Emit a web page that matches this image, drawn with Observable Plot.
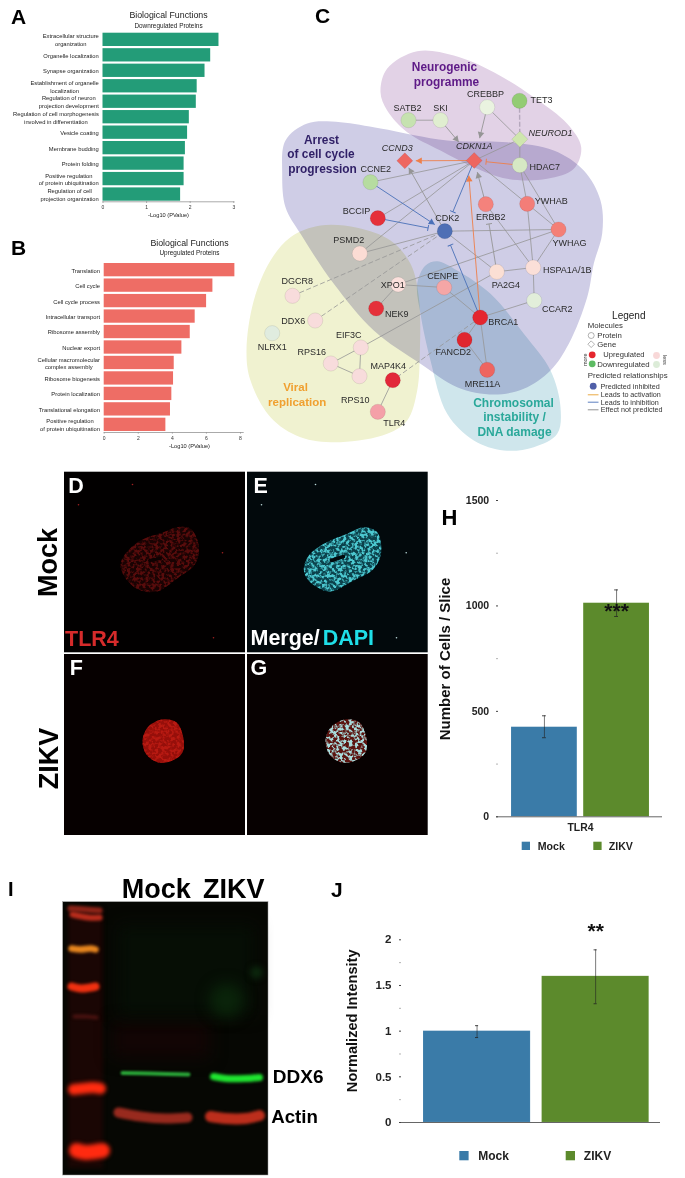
<!DOCTYPE html>
<html><head><meta charset="utf-8">
<script src="https://cdn.jsdelivr.net/npm/d3@7"></script>
<script src="https://cdn.jsdelivr.net/npm/@observablehq/plot@0.6"></script>
<style>
html,body{margin:0;padding:0;background:#fff}
#page{position:relative;width:685px;height:1178px;overflow:hidden;background:#fff}
#page>svg{position:absolute}
</style></head><body>
<svg width="0" height="0" style="position:absolute;left:0;top:0"><defs>
<filter id="speck" x="-5%" y="-5%" width="110%" height="110%" color-interpolation-filters="sRGB">
<feTurbulence type="fractalNoise" baseFrequency="0.32" numOctaves="2" seed="7" result="n"/>
<feColorMatrix in="n" type="matrix" values="0 0 0 0 0  0 0 0 0 0  0 0 0 0 0  5 0 0 0 -2.1" result="a"/>
<feComposite in="SourceGraphic" in2="a" operator="in"/>
<feGaussianBlur stdDeviation="0.35"/>
</filter>
</defs></svg>
<div id="page"></div>
<script>
const font = "'Liberation Sans', Helvetica, Arial, sans-serif";

// ---------- Panel A / B ----------
const downLabels = ["Extracellular structure\norganization","Organelle localization","Synapse organization","Establishment of organelle\nlocalization","Regulation of neuron\nprojection development","Regulation of cell morphogenesis\ninvolved in differentiation","Vesicle coating","Membrane budding","Protein folding","Positive regulation\nof protein ubiquitination","Regulation of cell\nprojection organization"];
const downValues = [2.66,2.47,2.34,2.16,2.14,1.98,1.94,1.89,1.86,1.86,1.78];
const upLabels = ["Translation","Cell cycle","Cell cycle process","Intracellular transport","Ribosome assembly","Nuclear export","Cellular macromolecular\ncomplex assembly","Ribosome biogenesis","Protein localization","Translational elongation","Positive regulation\nof protein ubiquitination"];
const upValues = [7.67,6.38,6.01,5.34,5.05,4.56,4.11,4.07,3.97,3.89,3.62];

// ---------- Panel C ----------
const nodeNames = ["SATB2","SKI","CREBBP","TET3","HDAC7","CCNE2","YWHAB","ERBB2","BCCIP","CDK2","YWHAG","PSMD2","PA2G4","HSPA1A/1B","DGCR8","XPO1","CENPE","CCAR2","NEK9","DDX6","BRCA1","NLRX1","FANCD2","EIF3C","RPS16","RPS10","MAP4K4","MRE11A","TLR4"];
const nodeX = [408,440,486.7,519,519.3,370,526.7,485.3,377.3,444.3,558,359.3,496.3,532.7,292,397.7,443.7,533.7,375.7,314.7,479.7,271.7,464,360.3,330.3,359,392.3,486.7,377.3];
const nodeY = [119.7,119.7,106.7,100.3,164.7,181.7,203.3,203.7,217.7,230.7,229,253,271.3,267,295.3,284,287,300,308,320,317,332.7,339.3,347,363,375.7,379.7,369.3,411.3];
const nodeFill = ["#c6e2b0","#e0eed0","#eaf3e0","#93cc74","#d6e8c4","#b6dca0","#f37d78","#f4827c","#e5303a","#4f6fb5","#f47f76","#fbdcd4","#fbdfd4","#fbdfd8","#f8dcdc","#fbe0dc","#f5a6a6","#e2eeda","#e5303a","#f8dcdc","#e4262f","#e0ecdf","#e0262e","#f8dcdc","#f8dcdc","#f8dcdc","#e2283a","#ee6560","#f4a0a8"];
const nodeLabelX = [407,440,485,541,544.3,375.3,550.7,490.3,356,446.7,569,348.3,505.3,566.7,296.7,392.3,442.3,556.7,396.3,292.7,502.7,271.7,452.7,348.3,311.3,354.7,387.7,482,393.7];
const nodeLabelY = [107.3,107.3,94,99.3,166.7,168.3,200.7,216.7,210.3,218,243,240,284.7,269.7,280.3,285,276,308.3,313.7,320.3,321.7,346.7,351.3,335,351.7,399.3,365.3,383.3,422.7];
const geneNames = ["NEUROD1","CDKN1A","CCND3"];
const geneX = [519.3,473.7,404.3];
const geneY = [138.7,160,160.3];
const geneFill = ["#cfe6ae","#ee6660","#ee6660"];
const geneLabelX = [550,473.7,396.7];
const geneLabelY = [132.7,146,147.7];

const solidEdges = [["SATB2","SKI"],["CREBBP","NEUROD1"],["NEUROD1","HDAC7"],["NEUROD1","CDKN1A"],["CCNE2","CDKN1A"],["BCCIP","CDKN1A"],["PSMD2","CDKN1A"],["CDKN1A","YWHAB"],["HDAC7","YWHAB"],["HDAC7","YWHAG"],["YWHAB","HSPA1A/1B"],["YWHAB","YWHAG"],["ERBB2","HSPA1A/1B"],["YWHAG","HSPA1A/1B"],["CDK2","PA2G4"],["PA2G4","HSPA1A/1B"],["HSPA1A/1B","CCAR2"],["PA2G4","EIF3C"],["YWHAG","XPO1"],["XPO1","CENPE"],["XPO1","NEK9"],["CENPE","BRCA1"],["BRCA1","CCAR2"],["BRCA1","FANCD2"],["BRCA1","MRE11A"],["FANCD2","MRE11A"],["MAP4K4","TLR4"],["EIF3C","RPS16"],["EIF3C","RPS10"],["RPS16","RPS10"],["CDK2","YWHAG"],["CDK2","PSMD2"]];
const dashedEdges = [["DGCR8","CDK2"],["DDX6","CDK2"],["BRCA1","MAP4K4"]];
const lightDashedEdges = [["TET3","NEUROD1"]];
const grayArrows = [["SKI","CDKN1A"],["CREBBP","CDKN1A"],["ERBB2","CDKN1A"],["CDK2","CCND3"]];
const orangeArrows = [["CDKN1A","CCND3"],["BRCA1","CDKN1A"]];
const blueArrows = [["CCNE2","CDK2"]];
const blueBars = [["BCCIP","CDK2"],["BRCA1","CDK2"],["CDKN1A","CDK2"]];
const orangeBars = [["HDAC7","CDKN1A"]];
const grayBars = [["PA2G4","ERBB2"]];
const edgeGap = {"SKI>CDKN1A":24,"CREBBP>CDKN1A":23,"ERBB2>CDKN1A":12,"CDK2>CCND3":8,"CDKN1A>CCND3":11,"BRCA1>CDKN1A":0,"CCNE2>CDK2":12,"BCCIP>CDK2":17,"BRCA1>CDK2":15,"CDKN1A>CDK2":21,"HDAC7>CDKN1A":12,"PA2G4>ERBB2":20};
const edgeTarget = {"BRCA1>CDKN1A":[468.3,175]};

const neuroBlob = [[386.7,68],[416.7,50.7],[453.3,55],[493.3,71.7],[533.3,96.7],[566.7,123.3],[580.7,146.7],[573.3,168.3],[546.7,178.3],[506.7,178.3],[473.3,166.7],[440,150],[406.7,131.7],[386.7,110],[380,91.7]];
const arrestBlob = [[281.7,173],[285,140],[306.7,123],[340,121.7],[380,128],[446.7,140],[506.7,141.7],[553.3,150],[583.3,170],[600,200],[601.7,233],[593.3,263],[586.7,296.7],[568.3,343.3],[550,370],[523.3,388.3],[493.3,394],[456.7,386.7],[420,363.3],[373.3,330],[333.3,283.3],[300,233.3],[285,206.7]];
const viralBlob = [[320,225],[356.7,227.3],[390,240],[410,263.3],[418.3,296.7],[419.3,353.3],[416.7,390],[406.7,420],[386.7,433.3],[340,441.7],[300,436.7],[270,416.7],[250,380],[246,350],[253.3,300],[270,260],[290,236.7]];
const chromoBlob = [[436.7,260.7],[456.7,270],[490,293.3],[523.3,333.3],[550,370],[560,406.7],[556.7,433.3],[533.3,446.7],[503.3,450],[473.3,440],[446.7,413.3],[430,360],[420,313.3],[416.7,283.3],[425,265]];

// ---------- Panels H / J ----------
const groups = ["Mock","ZIKV"];
const groupColors = ["#3a7ba8","#5c8a2c"];
const cellValues = [425,1013];
const cellLow = [375,950];
const cellHigh = [479,1076];
const intensityValues = [1,1.6];
const intensityLow = [0.93,1.3];
const intensityHigh = [1.06,1.89];

// ---------- Panel I gel bands ----------
const ladder1a=[[70,908],[85,909],[99,910]];
const ladder1b=[[72,914],[88,917],[99,917]];
const ladder2=[[71,948],[80,949],[90,948],[95,949]];
const ladder3=[[71,986],[80,988],[90,987],[95,986]];
const ladder4=[[74,1016],[85,1016],[96,1017]];
const ladder5=[[73,1089],[82,1088],[92,1087],[100,1088]];
const ladder6=[[76,1150],[85,1152],[95,1151],[102,1150]];
const ddx6Mock=[[122,1072.5],[150,1073],[188,1074]];
const ddx6Zikv=[[213,1076],[225,1078],[245,1078],[259,1077]];
const actinMock=[[118,1112],[140,1116],[165,1118],[187,1117]];
const actinZikv=[[210,1116],[225,1118],[245,1118],[259,1115]];

// ---------- helpers ----------
const page = document.getElementById("page");
function place(svg,l,t){svg.style.left=l+"px";svg.style.top=t+"px";page.appendChild(svg);}
const baseStyle = {background:"transparent",fontFamily:font,overflow:"visible"};
function pagePlot(l,t,w,h,marks){
  const svg = Plot.plot({width:w,height:h,margin:0,
    x:{axis:null,domain:[l,l+w],range:[0,w]},y:{axis:null,domain:[t,t+h],range:[0,h]},
    style:baseStyle,marks});
  place(svg,l,t);
}
const cv = document.createElement("canvas").getContext("2d");
function labelWidth(s,size){cv.font=size+"px 'Liberation Sans'";return Math.max(...s.split("\n").map(l=>cv.measureText(l).width));}

function hbar(labels,values,o){
  const pxPer = (o.x1-o.x0)/o.max;
  const rows = labels.map((l,i)=>({l,v:values[i]}));
  const cx = (o.cx-o.x0)/pxPer;
  const svg = Plot.plot({width:o.w,height:o.h,marginLeft:o.x0,marginRight:o.w-o.axisEnd,marginTop:0,marginBottom:o.h-o.axisY,
    x:{axis:null,domain:[0,o.max],range:[o.x0,o.x1]},
    y:{axis:null,type:"band",domain:labels,range:[o.top,o.bottom],paddingInner:0.14,paddingOuter:0,round:false},
    style:baseStyle,
    marks:[
      Plot.barX(rows,{x:"v",y:"l",fill:o.color}),
      Plot.text(rows,{x:d=>-(4.2+labelWidth(d.l,5.8)/2)/pxPer,y:"l",text:"l",textAnchor:"middle",fontSize:5.8,fill:"#222",lineHeight:1.33}),
      Plot.frame({anchor:"bottom",stroke:"#aaa"}),
      Plot.axisX({ticks:o.ticks,tickFormat:"d",tickSize:1.5,tickPadding:2,fontSize:5,label:null,stroke:"#999",fill:"#333"}),
      Plot.text(["Biological Functions"],{x:()=>cx,frameAnchor:"top",lineAnchor:"middle",dy:o.titleY,fontSize:8.8,fill:"#222"}),
      Plot.text([o.sub],{x:()=>cx,frameAnchor:"top",lineAnchor:"middle",dy:o.subY,fontSize:6.4,fill:"#222"}),
      Plot.text(["-Log10 (PValue)"],{x:()=>cx,frameAnchor:"bottom",lineAnchor:"middle",dy:o.axisTitleY-o.axisY,fontSize:5.7,fill:"#222"})
    ]});
  place(svg,0,o.t);
}
hbar(downLabels,downValues,{t:0,w:240,h:228,x0:102.5,x1:233.3,axisEnd:233.3,max:3,ticks:[0,1,2,3],top:32.7,bottom:200.7,axisY:201.3,color:"#239c78",sub:"Downregulated Proteins",cx:168,titleY:15,subY:25,axisTitleY:215});
hbar(upLabels,upValues,{t:230,w:245,h:228,x0:103.7,x1:240,axisEnd:242.7,max:8,ticks:[0,2,4,6,8],top:33,bottom:201,axisY:202,color:"#ee6d65",sub:"Upregulated Proteins",cx:189,titleY:12.3,subY:22,axisTitleY:215.7});

// ---------- Panel C ----------
const N = {};
nodeNames.forEach((n,i)=>N[n]={n,x:nodeX[i],y:nodeY[i],fill:nodeFill[i],lx:nodeLabelX[i],ly:nodeLabelY[i]});
geneNames.forEach((n,i)=>N[n]={n,x:geneX[i],y:geneY[i],fill:geneFill[i],lx:geneLabelX[i],ly:geneLabelY[i]});
function tip(e){
  const key=e.join(">"),a=N[e[0]],over=edgeTarget[key],bx=over?over[0]:N[e[1]].x,by=over?over[1]:N[e[1]].y;
  const dx=bx-a.x,dy=by-a.y,L=Math.hypot(dx,dy),g=edgeGap[key]||0;
  return {x1:a.x,y1:a.y,x2:bx-dx/L*g,y2:by-dy/L*g,angle:Math.atan2(dx,-dy)*180/Math.PI};
}
const linkOf=(edges,opts)=>Plot.link(edges,{x1:e=>N[e[0]].x,y1:e=>N[e[0]].y,x2:e=>N[e[1]].x,y2:e=>N[e[1]].y,strokeWidth:0.8,...opts});
const headSym={draw(c,s){const r=Math.sqrt(s/Math.PI);c.moveTo(0,0);c.lineTo(-r*0.55,r);c.lineTo(r*0.55,r);c.closePath();}};
const barSym={draw(c,s){const r=Math.sqrt(s/Math.PI);c.moveTo(-r,0);c.lineTo(r,0);}};
function directed(edges,color,kind){
  const t=edges.map(tip);
  return [
    Plot.link(t,{x1:"x1",y1:"y1",x2:"x2",y2:"y2",stroke:color,strokeWidth:0.9}),
    kind==="arrow"
      ? Plot.dot(t,{x:"x2",y:"y2",rotate:"angle",symbol:headSym,r:6,fill:color,stroke:"none"})
      : Plot.dot(t,{x:"x2",y:"y2",rotate:d=>d.angle,symbol:barSym,r:3,fill:"none",stroke:color,strokeWidth:0.9})
  ];
}
const blob=(pts,fill)=>Plot.line(pts,{x:d=>d[0],y:d=>d[1],curve:"catmull-rom-closed",fill,stroke:"none",mixBlendMode:"multiply"});
const circles=Object.values(N).filter(d=>nodeNames.includes(d.n));
const diamonds=Object.values(N).filter(d=>geneNames.includes(d.n));

const GRAY="#959595",BLUE="#4a70b8",ORANGE="#ee7f4a";
const regionLabels=[
  {t:"Neurogenic",x:444,y:67,c:"#5e1a87",s:11.9},{t:"programme",x:446,y:82,c:"#5e1a87",s:11.9},
  {t:"Arrest",x:321,y:140,c:"#2f1f66",s:11.9},{t:"of cell cycle",x:320.5,y:154,c:"#2f1f66",s:11.9},{t:"progression",x:322,y:168.5,c:"#2f1f66",s:11.9},
  {t:"Viral",x:295,y:387,c:"#f0a030",s:11.5},{t:"replication",x:296.7,y:402,c:"#f0a030",s:11.5},
  {t:"Chromosomal",x:513,y:402.7,c:"#2aa89a",s:12},{t:"instability /",x:514,y:417,c:"#2aa89a",s:12},{t:"DNA damage",x:514,y:432,c:"#2aa89a",s:12}
];
const legendText=[
  {t:"Molecules",x:587.3,y:325.3,s:7.8},{t:"Protein",x:596.7,y:335.3,s:7.8},{t:"Gene",x:596.7,y:343.7,s:7.8},
  {t:"Upregulated",x:602.7,y:354.3,s:7.6},{t:"Downregulated",x:596.7,y:363.5,s:7.8},
  {t:"Predicted relationships",x:587.3,y:375,s:7.9},{t:"Predicted inhibited",x:600,y:385.7,s:7.2},
  {t:"Leads to activation",x:600.3,y:394,s:7.2},{t:"Leads to inhibition",x:600.3,y:401.7,s:7.2},{t:"Effect not predicted",x:600.3,y:409.3,s:7.2}
];
const legendDots=[{x:591.7,y:354.3,f:"#e5262e"},{x:591.7,y:363.3,f:"#5dbb63"},{x:656,y:355,f:"#f8d8d8"},{x:656,y:364,f:"#dcecd8"},{x:592.7,y:385.7,f:"#4f5fa8"}];
const legendLines=[{y:394.3,c:"#e8a030"},{y:401.7,c:"#4a70b8"},{y:409.3,c:"#888"}];

pagePlot(240,0,445,460,[
  blob(viralBlob,"#f0f2d0"),blob(chromoBlob,"#cfe6ec"),blob(arrestBlob,"#cfcde6"),blob(neuroBlob,"#e2d2e6"),
  linkOf(solidEdges,{stroke:GRAY}),
  linkOf(dashedEdges,{stroke:GRAY,strokeDasharray:"5,2.5"}),
  linkOf(lightDashedEdges,{stroke:"#b5a8bd",strokeWidth:1.4,strokeDasharray:"5,2"}),
  ...directed(grayArrows,GRAY,"arrow"),
  ...directed(orangeArrows,ORANGE,"arrow"),
  ...directed(blueArrows,BLUE,"arrow"),
  ...directed(blueBars,BLUE,"bar"),
  ...directed(orangeBars,ORANGE,"bar"),
  ...directed(grayBars,GRAY,"bar"),
  Plot.dot(circles,{x:"x",y:"y",r:7.6,fill:"fill",stroke:"#00000022",strokeWidth:0.6}),
  Plot.dot(diamonds,{x:"x",y:"y",r:7.2,symbol:"diamond2",fill:"fill",stroke:"#00000022",strokeWidth:0.6}),
  Plot.text(circles,{x:"lx",y:"ly",text:"n",fontSize:9,fill:"#2a2a2a"}),
  Plot.text(diamonds,{x:"lx",y:"ly",text:"n",fontSize:9,fontStyle:"italic",fill:"#2a2a2a"}),
  Plot.text(regionLabels,{x:"x",y:"y",text:"t",fill:"c",fontSize:"s",fontWeight:"bold"}),
  Plot.text(["Legend"],{x:()=>628.3,y:()=>315,fontSize:10,fill:"#222"}),
  Plot.text(legendText,{x:"x",y:"y",text:"t",fontSize:"s",textAnchor:"start",fill:"#333"}),
  Plot.dot([{x:590.7,y:335}],{x:"x",y:"y",r:3,fill:"white",stroke:"#666",strokeWidth:0.5}),
  Plot.dot([{x:590.7,y:343.7}],{x:"x",y:"y",r:3,symbol:"diamond2",fill:"white",stroke:"#666",strokeWidth:0.5}),
  Plot.dot(legendDots,{x:"x",y:"y",r:3.4,fill:"f"}),
  Plot.link(legendLines,{x1:()=>587.3,x2:()=>598,y1:"y",y2:"y",stroke:"c",strokeWidth:0.9}),
  Plot.text([{t:"more",x:584.3,y:359.3}],{x:"x",y:"y",text:"t",fontSize:5.5,rotate:-90,fill:"#333"}),
  Plot.text([{t:"less",x:664.3,y:359.3}],{x:"x",y:"y",text:"t",fontSize:5.5,rotate:90,fill:"#333"})
]);

// ---------- Panels D-G ----------
const frames=[
  {x1:64,x2:245,y1:471.7,y2:652.3,f:"#020000"},
  {x1:247,x2:427.7,y1:471.7,y2:652.3,f:"#02090c"},
  {x1:64,x2:245,y1:654,y2:835,f:"#060000"},
  {x1:247,x2:427.7,y1:654,y2:835,f:"#070101"}
];
const cellD=[[120,565],[125,553],[140,540],[163,531.7],[176.7,526.7],[190,528.3],[198.3,545],[195,563],[176.7,578],[156.7,591],[140,590],[126.7,580]];
const cellE=[[303.3,568.3],[308.3,555],[323.3,543.3],[346.7,533.3],[363.3,526.7],[376.7,531.7],[380.7,551.7],[373.3,568.3],[353.3,580],[330,591],[316.7,586.7],[306.7,578.3]];
const cellF=[[142,740],[148,726],[162,719],[176,722],[183,738],[182,752],[172,760],[158,762],[146,754]];
const cellG=[[325,740],[331,726],[345,719],[359,722],[366,738],[365,752],[355,760],[341,762],[329,754]];
const specksRed=[[132,484],[78,504.3],[222,552.3],[213,637.3]];
const specksMerge=[[315,484],[261,504.3],[405.7,552.3],[396,637.3]];
const cellShape=(pts,fill,extra)=>Plot.line(pts,{x:d=>d[0],y:d=>d[1],curve:"catmull-rom-closed",fill,stroke:"none",...extra});
const speck={imageFilter:"url(#speck)"};
const micrText=[
  {t:"D",x:67.7,y:485.5,f:"white"},{t:"E",x:253,y:485.5,f:"white"},{t:"F",x:69.3,y:668,f:"white"},{t:"G",x:250,y:668,f:"white"},
  {t:"TLR4",x:64.5,y:639,f:"#d62b2b"},{t:"Merge/",x:250,y:638,f:"white"}
];
pagePlot(30,465,400,380,[
  Plot.rect(frames,{x1:"x1",x2:"x2",y1:"y1",y2:"y2",fill:"f"}),
  cellShape(cellD,"#1a0303"),cellShape(cellD,"#580c0c",speck),
  cellShape(cellE,"#0c424c"),cellShape(cellE,"#4cc8d0",speck),
  cellShape(cellF,"#960f0a"),cellShape(cellF,"#b81a12",speck),
  cellShape(cellG,"#5c1410"),cellShape(cellG,"#a8dcdc",speck),
  Plot.line([[149,560],[160,558]],{x:d=>d[0],y:d=>d[1],stroke:"#0e0202",strokeWidth:3}),
  Plot.line([[331,560],[343,556]],{x:d=>d[0],y:d=>d[1],stroke:"#03090c",strokeWidth:3.5}),
  Plot.dot(specksRed,{x:d=>d[0],y:d=>d[1],r:0.8,fill:"#a02020"}),
  Plot.dot(specksMerge,{x:d=>d[0],y:d=>d[1],r:0.8,fill:"#b8d8d8"}),
  Plot.text(micrText,{x:"x",y:"y",text:"t",fill:"f",textAnchor:"start",fontWeight:"bold",fontSize:21.5}),
  Plot.text(["DAPI"],{x:()=>373.5,y:()=>638,textAnchor:"end",fill:"#1fdfe8",fontWeight:"bold",fontSize:21.5}),
  Plot.text([{t:"Mock",x:48,y:562},{t:"ZIKV",x:49,y:758}],{x:"x",y:"y",text:"t",rotate:-90,fill:"#000",fontWeight:"bold",fontSize:27})
]);

// ---------- Panels H, J ----------
function columns(o){
  const rows=groups.map((g,i)=>({g,v:o.values[i],lo:o.low[i],hi:o.high[i],c:groupColors[i]}));
  const svg=Plot.plot({width:o.w,height:o.h,marginLeft:o.axisX+2,marginRight:o.w-o.axisEnd,marginTop:0,marginBottom:o.h-o.y0,
    x:{axis:null,type:"band",domain:groups,range:o.xRange,paddingInner:o.padI,paddingOuter:0,round:false},
    y:{axis:null,domain:o.domain,range:[o.y0,o.yTop]},
    style:baseStyle,
    marks:[
      Plot.barY(rows,{x:"g",y:"v",fill:"c",stroke:"#ffffff30",strokeWidth:0.5}),
      Plot.ruleY([0],{stroke:"#555",strokeWidth:0.9,insetLeft:-2}),
      Plot.ruleX(rows,{x:"g",y1:"lo",y2:"hi",stroke:"#222",strokeWidth:0.8,strokeOpacity:0.75}),
      Plot.tickY(rows,{x:"g",y:"lo",stroke:"#222",strokeWidth:0.8,insetLeft:o.cap,insetRight:o.cap}),
      Plot.tickY(rows,{x:"g",y:"hi",stroke:"#222",strokeWidth:0.8,insetLeft:o.cap,insetRight:o.cap}),
      Plot.axisY({ticks:o.major,tickSize:2,tickPadding:o.pad,fontSize:o.tickFont,fontWeight:"bold",tickFormat:d=>String(d),label:null,stroke:"#444",fill:"#222"}),
      Plot.tickY(o.minor,{y:d=>d,stroke:"#666",insetRight:o.axisEnd-o.axisX-2-1,dx:-1.5}),
      Plot.text([o.star],{x:()=>"ZIKV",y:()=>o.starY,fontSize:21,fontWeight:"bold",fill:"#111",lineAnchor:"middle"})
    ]});
  place(svg,o.l,o.t);
}
columns({l:430,t:480,w:255,h:380,axisX:66,axisEnd:232,xRange:[81,219],padI:6.3/72.3,y0:336.3,yTop:20,domain:[0,1500],values:cellValues,low:cellLow,high:cellHigh,cap:31,major:[0,500,1000,1500],minor:[250,750,1250],pad:7.3,tickFont:10.5,star:"***",starY:975});
columns({l:330,t:880,w:355,h:298,axisX:69,axisEnd:330,xRange:[93,318.7],padI:11.4/118,y0:242,yTop:59.3,domain:[0,2],values:intensityValues,low:intensityLow,high:intensityHigh,cap:52,major:[0,0.5,1,1.5,2],minor:[0.25,0.75,1.25,1.75],pad:8,tickFont:11.5,star:"**",starY:2.09});

// ---------- Panel I ----------
const gel=(pts,stroke,strokeWidth,blur)=>Plot.line(pts,{x:d=>d[0],y:d=>d[1],curve:"catmull-rom",stroke,strokeWidth,strokeLinecap:"round",imageFilter:`blur(${blur}px)`});
pagePlot(0,860,330,318,[
  Plot.rect([{x1:62.7,x2:268,y1:901.7,y2:1175}],{x1:"x1",x2:"x2",y1:"y1",y2:"y2",fill:"#060703",stroke:"#999",strokeWidth:0.5}),
  Plot.rect([{x1:68,x2:103,y1:908,y2:1168}],{x1:"x1",x2:"x2",y1:"y1",y2:"y2",fill:"#1a0604",imageFilter:"blur(2px)"}),
  Plot.rect([{x1:112,x2:210,y1:1022,y2:1058}],{x1:"x1",x2:"x2",y1:"y1",y2:"y2",fill:"#120504",imageFilter:"blur(8px)"}),
  Plot.rect([{x1:118,x2:255,y1:925,y2:1015}],{x1:"x1",x2:"x2",y1:"y1",y2:"y2",fill:"#060e05",imageFilter:"blur(8px)"}),
  Plot.dot([[226,1000]],{x:d=>d[0],y:d=>d[1],r:17,fill:"#0a240a",imageFilter:"blur(7px)"}),
  Plot.dot([[256,972]],{x:d=>d[0],y:d=>d[1],r:6,fill:"#0c2a0e",imageFilter:"blur(3px)"}),
  gel(ladder1a,"#8c2418",6,1.6),gel(ladder1b,"#b82c1c",6,1.6),gel(ladder2,"#e8861e",6.5,1.5),gel(ladder3,"#f03010",8,1.7),gel(ladder4,"#4a1210",4,1.8),gel(ladder5,"#ff2c10",11,1.9),gel(ladder6,"#ff2a10",15,2.1),
  gel(ddx6Mock,"#2aa838",4,1.2),gel(ddx6Zikv,"#1fe630",7,1.4),
  gel(actinMock,"#982a1e",10,1.8),gel(actinZikv,"#bc2e1c",11,1.7),
  Plot.text([{t:"Mock",x:155.8},{t:"ZIKV",x:233.3}],{x:"x",y:()=>889,text:"t",fontWeight:"bold",fontSize:27,fill:"#000"}),
  Plot.text([{t:"DDX6",y:1076,s:19},{t:"Actin",y:1117,s:18.7}],{x:d=>d.t==="DDX6"?272.3:270.7,y:"y",text:"t",fontSize:"s",textAnchor:"start",fontWeight:"bold",fill:"#000"})
]);

// ---------- page-level text ----------
const pageText=[
  {t:"A",x:10.5,y:16.5,s:21},{t:"B",x:10.5,y:248,s:21},{t:"C",x:314.5,y:15.5,s:21},
  {t:"H",x:441,y:517,s:22},{t:"I",x:7.5,y:889,s:20},{t:"J",x:330.5,y:890,s:21}
];
const swatches=[{x:521.7,y:841.7,g:0,w:8.3},{x:593.3,y:841.7,g:1,w:8.3},{x:459.3,y:1151,g:0,w:9.3},{x:565.7,y:1151,g:1,w:9.3}];
const swatchText=[{t:"Mock",x:537.3,y:846,s:10.6},{t:"ZIKV",x:608.3,y:846,s:10.6},{t:"Mock",x:477.7,y:1156,s:12},{t:"ZIKV",x:583.3,y:1156,s:12}];
pagePlot(0,0,685,1178,[
  Plot.text(pageText,{x:"x",y:"y",text:"t",fontSize:"s",fontWeight:"bold",textAnchor:"start",fill:"#000"}),
  Plot.rect(swatches,{x1:"x",x2:d=>d.x+d.w,y1:"y",y2:d=>d.y+d.w,fill:d=>groupColors[d.g]}),
  Plot.text(swatchText,{x:"x",y:"y",text:"t",fontSize:"s",fontWeight:"bold",textAnchor:"start",fill:"#222"}),
  Plot.text(["TLR4"],{x:()=>580,y:()=>827.3,fontSize:10.4,fontWeight:"bold",fill:"#222"}),
  Plot.text(["Number of Cells / Slice"],{x:()=>445,y:()=>658.5,rotate:-90,fontSize:15,fontWeight:"bold",fill:"#111"}),
  Plot.text(["Normalized Intensity"],{x:()=>351.7,y:()=>1020.3,rotate:-90,fontSize:14.6,fontWeight:"bold",fill:"#111"})
]);
</script></body></html>
